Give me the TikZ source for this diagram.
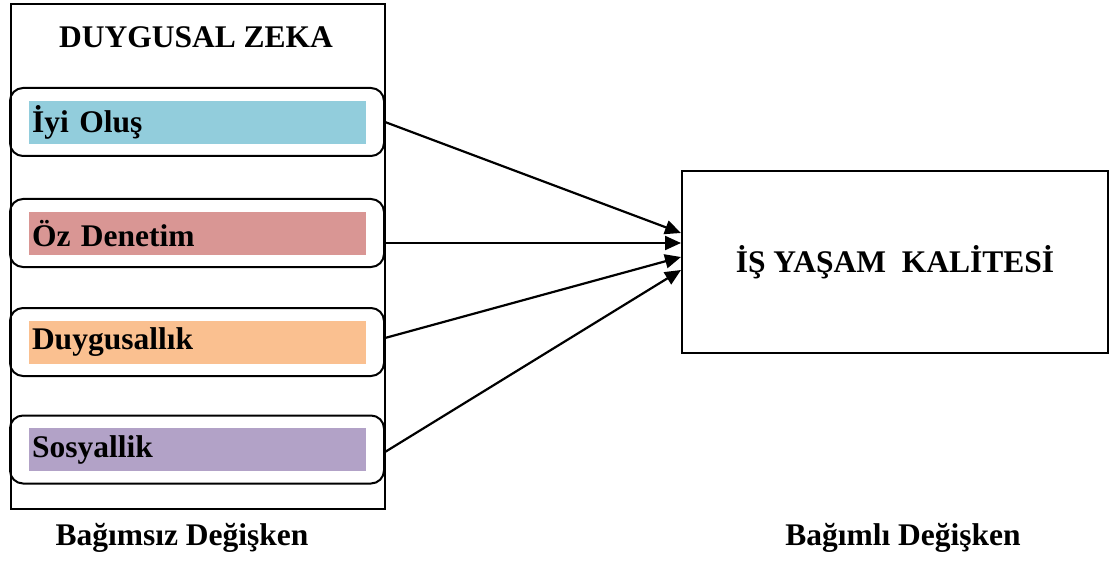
\documentclass[tikz,border=0pt]{standalone}
\usepackage{fontspec}
\setmainfont{Liberation Serif}
\usetikzlibrary{arrows.meta,calc}
\definecolor{cblue}{HTML}{92CDDC}
\definecolor{cpink}{HTML}{D99694}
\definecolor{corange}{HTML}{FAC090}
\definecolor{cpurple}{HTML}{B2A2C7}
\tikzset{
  bigtxt/.style={font=\fontsize{31.5}{36}\selectfont\bfseries},
  outerbox/.style={draw, line width=2pt, inner sep=0pt, minimum width=374pt, minimum height=505pt},
  dimbox/.style={draw, line width=2pt, rounded corners=13pt, inner sep=0pt, minimum width=374pt, minimum height=68pt},
  bar/.style={bigtxt, inner sep=0pt, inner xsep=3pt, text width=331pt, align=left, minimum height=43pt, anchor=center},
  tgtbox/.style={draw, line width=2pt, inner sep=0pt, minimum width=426pt, minimum height=182pt, bigtxt},
  arr/.style={line width=2.2pt, -{Triangle[length=16pt,width=14pt]}},
}
\begin{document}
\begin{tikzpicture}[x=1pt,y=-1pt]
\useasboundingbox (0,0) rectangle (1115,561);
\node[outerbox] (outer) at (197.5,256.5) {};
\node[bigtxt] (title) at (196,37) {DUYGUSAL ZEKA};
\node[dimbox] (b1) at (197,122) {};
\node[dimbox] (b2) at (197,233) {};
\node[dimbox] (b3) at (197,342) {};
\node[dimbox] (b4) at (197,449.5) {};
\node[bar, fill=cblue] (c1) at (197.5,122.5) {İyi Oluş};
\node[bar, fill=cpink] (c2) at (197.5,233.5) {Öz Denetim};
\node[bar, fill=corange] (c3) at (197.5,342) {Duygusallık};
\node[bar, fill=cpurple] (c4) at (197.5,449.5) {Sosyallik};
\node[tgtbox] (tgt) at (895,262) {İŞ YAŞAM\ \ KALİTESİ};
\draw[arr] (b1.east) -- ($(tgt.west)+(0,-29)$);
\draw[arr] ($(b2.east)+(0,10)$) -- ($(tgt.west)+(0,-19)$);
\draw[arr] ($(b3.east)+(0,-4)$) -- ($(tgt.west)+(0,-5)$);
\draw[arr] ($(b4.east)+(0,2.5)$) -- ($(tgt.west)+(0,8)$);
\node[bigtxt] (lbl1) at (182,538) {Bağımsız Değişken};
\node[bigtxt] (lbl2) at (903,538) {Bağımlı Değişken};
\end{tikzpicture}
\end{document}
